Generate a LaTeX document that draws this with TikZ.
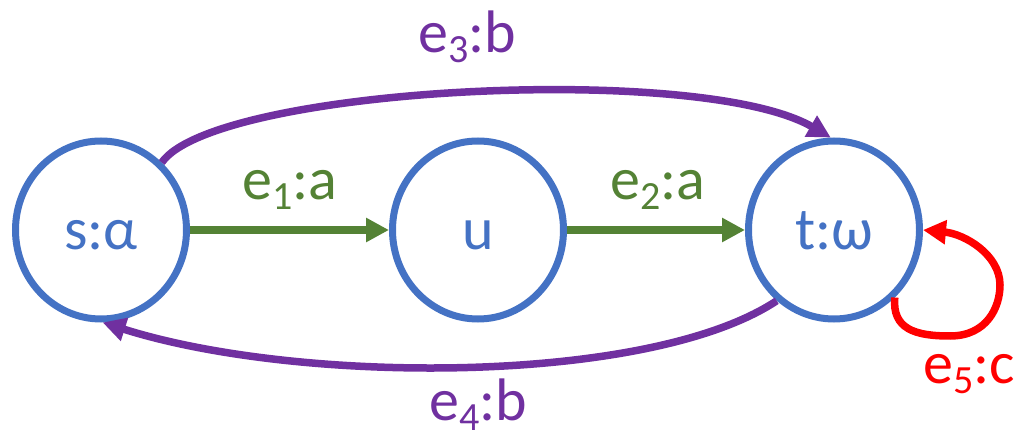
\documentclass[tikz,border=0pt]{standalone}
\usepackage{fontspec}
\setmainfont{Carlito}
\usetikzlibrary{arrows.meta,shapes.geometric}
\definecolor{stateblue}{HTML}{4472C4}
\definecolor{edgegreen}{HTML}{548235}
\definecolor{edgepurple}{HTML}{7030A0}
\definecolor{edgered}{HTML}{FF0000}
\newcommand{\esub}[1]{\raisebox{-10pt}{\fontsize{40}{40}\selectfont #1}}

\begin{document}
\begin{tikzpicture}[x=1pt,y=1pt,
  state/.style={ellipse, draw=stateblue, line width=7pt, minimum width=171pt, minimum height=178pt, inner sep=0pt, text=stateblue, font=\fontsize{60}{72}\selectfont, text height=40pt, text depth=0pt},
  edge/.style={line width=7.5pt, -{Triangle[length=23pt,width=23pt]}},
  elabel/.style={anchor=base, inner sep=1pt, font=\fontsize{60}{72}\selectfont}]
\useasboundingbox (0,0) rectangle (1021,437);
\node[state] (s) at (101,207) {s:α};
\node[state] (u) at (478,207) {u};
\node[state] (t) at (834,207) {t:ω};
\draw[edge, edgegreen] (s) -- (u);
\draw[edge, edgegreen] (u) -- (t);
\draw[edge, edgepurple] (s.48) .. controls (215,350) and (700,375) .. (t.92);
\draw[edge, edgepurple] (t.-129) .. controls (650,52) and (300,52) .. (s.-89);
\draw[edge, edgered] (t.-48) .. controls (892,108) and (915,101) .. (950,101) .. controls (987,101) and (1000,130) .. (1000,152) .. controls (1000,182) and (965,203) .. (t.east);
\node[elabel, text=edgepurple] (l3) at (467,384) {e\esub{3}:b};
\node[elabel, text=edgegreen] (l1) at (290,237) {e\esub{1}:a};
\node[elabel, text=edgegreen] (l2) at (658,237) {e\esub{2}:a};
\node[elabel, text=edgepurple] (l4) at (478,17) {e\esub{4}:b};
\node[elabel, text=edgered] (l5) at (969,54) {e\esub{5}:c};
\end{tikzpicture}
\end{document}
